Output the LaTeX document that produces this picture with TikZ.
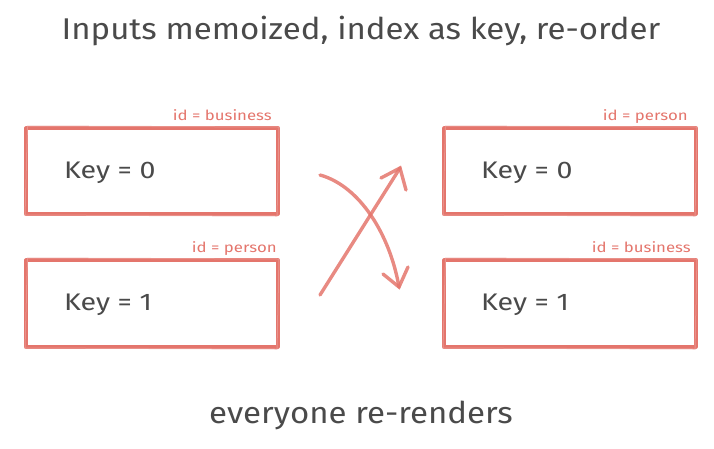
\documentclass[tikz,border=0pt]{standalone}
\usepackage{fontspec}
\setmainfont{Fira Sans}
\usetikzlibrary{arrows.meta}
\definecolor{boxred}{HTML}{E4756C}
\definecolor{ink}{HTML}{4A4A4A}
\tikzset{
  sketchbox/.style={draw=boxred, line width=3.2pt, line join=round},
  sketchthin/.style={draw=boxred!70, line width=1pt, opacity=0.7},
  keytext/.style={text=ink, font=\fontsize{24}{26}\selectfont, anchor=west, inner sep=0pt, xscale=1.19},
  idtext/.style={text=boxred, font=\fontsize{14}{15}\selectfont, anchor=base east, inner sep=0pt, xscale=1.2},
  headtext/.style={text=ink, font=\fontsize{30}{32}\selectfont, inner sep=0pt, xscale=1.1},
  swap/.style={draw=boxred, line width=3.4pt, line cap=round, opacity=0.85},
}
\begin{document}
\begin{tikzpicture}[x=1pt,y=-1pt]
\useasboundingbox (0,0) rectangle (714,448);
% title
\node[headtext] (title) at (361,31) {Inputs memoized, index as key, re-order};
\node[headtext] (foot) at (361,415) {everyone re-renders};
% boxes
\foreach \nm/\xa/\xb/\ya/\yb in {lt/26/278/128/214, lb/26/278/260/347, rt/444/696/128/214, rb/444/696/260/347}{
  \draw[sketchbox] (\xa,\ya) rectangle (\xb,\yb);
  \draw[sketchthin] (\xa+1.5,\ya-2) -- (\xb+1,\ya-1) -- (\xb-1,\yb+2) -- (\xa-1,\yb+1) -- cycle;
  \coordinate (\nm) at (\xa,\ya);
}
\node[keytext] (k1) at (64,173) {Key = 0};
\node[keytext] (k2) at (64,305) {Key = 1};
\node[keytext] (k3) at (481,173) {Key = 0};
\node[keytext] (k4) at (481,305) {Key = 1};
\node[idtext] (i1) at (272,120) {id = business};
\node[idtext] (i2) at (277,252) {id = person};
\node[idtext] (i3) at (688,120) {id = person};
\node[idtext] (i4) at (691,252) {id = business};
% swap arrows
\coordinate (a1s) at (320,295);
\coordinate (a1e) at (400,168);
\coordinate (a1l) at (381,178);
\coordinate (a1r) at (406,190);
\coordinate (a2s) at (320,175);
\coordinate (a2e) at (399,287);
\coordinate (a2l) at (383,274);
\coordinate (a2r) at (408,267);
\draw[swap] (a1s) -- (a1e);
\draw[swap] (a1l) -- (a1e) -- (a1r);
\draw[swap] (a2s) .. controls (360,186) and (390,235) .. (a2e);
\draw[swap] (a2l) -- (a2e) -- (a2r);
\end{tikzpicture}
\end{document}
